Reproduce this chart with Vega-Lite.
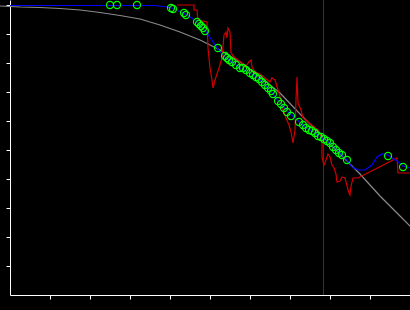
{
  "$schema": "https://vega.github.io/schema/vega-lite/v6.json",
  "width": 400,
  "height": 295,
  "autosize": {"type": "none"},
  "padding": {"left": 10, "top": 0, "right": 0, "bottom": 15},
  "background": "#000000",
  "config": {
    "view": {"stroke": null},
    "axis": {"domainColor": "#ffffff", "tickColor": "#ffffff", "labels": false, "grid": false, "title": null, "tickSize": 4, "domainWidth": 1, "tickWidth": 1}
  },
  "datasets": {
    "curve": [
      {"x": -10, "y": 289}, {"x": 10, "y": 288}, {"x": 30, "y": 287.5}, {"x": 50, "y": 286.5},
      {"x": 70, "y": 285}, {"x": 90, "y": 282.5}, {"x": 110, "y": 279.5}, {"x": 130, "y": 276},
      {"x": 150, "y": 270}, {"x": 170, "y": 263}, {"x": 190, "y": 255}, {"x": 210, "y": 245},
      {"x": 230, "y": 233}, {"x": 250, "y": 218}, {"x": 270, "y": 202}, {"x": 290, "y": 181},
      {"x": 313, "y": 158}, {"x": 330, "y": 141}, {"x": 350, "y": 121}, {"x": 370, "y": 99},
      {"x": 390, "y": 79}, {"x": 400, "y": 69}
    ],
    "blue": [
      {"x": 0, "y": 289.5}, {"x": 145, "y": 289.5}, {"x": 157, "y": 288}, {"x": 162, "y": 287},
      {"x": 175, "y": 281}, {"x": 185, "y": 275}, {"x": 192, "y": 267}, {"x": 197, "y": 262},
      {"x": 203, "y": 253}, {"x": 208, "y": 246}, {"x": 215, "y": 238}, {"x": 222, "y": 233},
      {"x": 230, "y": 227}, {"x": 240, "y": 222}, {"x": 248, "y": 217}, {"x": 255, "y": 210},
      {"x": 262, "y": 202}, {"x": 270, "y": 192}, {"x": 278, "y": 183}, {"x": 285, "y": 177},
      {"x": 295, "y": 168}, {"x": 305, "y": 162}, {"x": 313, "y": 156}, {"x": 320, "y": 152},
      {"x": 330, "y": 142}, {"x": 337, "y": 135}, {"x": 342, "y": 128}, {"x": 348, "y": 125},
      {"x": 355, "y": 125}, {"x": 362, "y": 130}, {"x": 367, "y": 138}, {"x": 372, "y": 141},
      {"x": 378, "y": 140}, {"x": 382, "y": 137}, {"x": 387, "y": 134}, {"x": 393, "y": 129},
      {"x": 400, "y": 127}
    ],
    "red": [
      {"i": 1, "x": 167, "y": 290}, {"i": 2, "x": 184, "y": 290}, {"i": 3, "x": 184, "y": 285},
      {"i": 4, "x": 187, "y": 285}, {"i": 5, "x": 188, "y": 275}, {"i": 6, "x": 197, "y": 273},
      {"i": 7, "x": 198, "y": 247}, {"i": 8, "x": 200, "y": 227}, {"i": 9, "x": 202, "y": 215},
      {"i": 10, "x": 203, "y": 207}, {"i": 11, "x": 205, "y": 215}, {"i": 12, "x": 209, "y": 227},
      {"i": 13, "x": 212, "y": 237}, {"i": 14, "x": 213, "y": 248}, {"i": 15, "x": 214, "y": 260},
      {"i": 16, "x": 216, "y": 263}, {"i": 17, "x": 217, "y": 257}, {"i": 18, "x": 218, "y": 267},
      {"i": 19, "x": 220, "y": 263}, {"i": 20, "x": 221, "y": 243}, {"i": 21, "x": 223, "y": 239},
      {"i": 22, "x": 228, "y": 235}, {"i": 23, "x": 232, "y": 232}, {"i": 24, "x": 236, "y": 229},
      {"i": 25, "x": 239, "y": 233}, {"i": 26, "x": 241, "y": 235}, {"i": 27, "x": 242, "y": 228},
      {"i": 28, "x": 245, "y": 223}, {"i": 29, "x": 250, "y": 221}, {"i": 30, "x": 255, "y": 217},
      {"i": 31, "x": 260, "y": 213}, {"i": 32, "x": 262, "y": 217}, {"i": 33, "x": 265, "y": 215},
      {"i": 34, "x": 268, "y": 205}, {"i": 35, "x": 271, "y": 195}, {"i": 36, "x": 273, "y": 185},
      {"i": 37, "x": 276, "y": 177}, {"i": 38, "x": 279, "y": 170}, {"i": 39, "x": 281, "y": 163},
      {"i": 40, "x": 283, "y": 152}, {"i": 41, "x": 285, "y": 165}, {"i": 42, "x": 286, "y": 195},
      {"i": 43, "x": 287, "y": 218}, {"i": 44, "x": 288, "y": 192}, {"i": 45, "x": 291, "y": 185},
      {"i": 46, "x": 293, "y": 177}, {"i": 47, "x": 298, "y": 173}, {"i": 48, "x": 303, "y": 169},
      {"i": 49, "x": 308, "y": 165}, {"i": 50, "x": 312, "y": 157}, {"i": 51, "x": 312, "y": 138},
      {"i": 52, "x": 314, "y": 130}, {"i": 53, "x": 316, "y": 135}, {"i": 54, "x": 318, "y": 141},
      {"i": 55, "x": 320, "y": 138}, {"i": 56, "x": 322, "y": 130}, {"i": 57, "x": 324, "y": 127},
      {"i": 58, "x": 326, "y": 121}, {"i": 59, "x": 327, "y": 113}, {"i": 60, "x": 330, "y": 114},
      {"i": 61, "x": 332, "y": 118}, {"i": 62, "x": 335, "y": 117}, {"i": 63, "x": 337, "y": 109},
      {"i": 64, "x": 339, "y": 102}, {"i": 65, "x": 340, "y": 100}, {"i": 66, "x": 341, "y": 109},
      {"i": 67, "x": 343, "y": 117}, {"i": 68, "x": 348, "y": 117}, {"i": 69, "x": 387, "y": 137},
      {"i": 70, "x": 388, "y": 122}, {"i": 71, "x": 400, "y": 122}
    ],
    "pts": [
      {"x": 100, "y": 290}, {"x": 107, "y": 290}, {"x": 127, "y": 290}, {"x": 161, "y": 287},
      {"x": 163, "y": 286}, {"x": 174, "y": 282}, {"x": 176, "y": 280}, {"x": 187, "y": 273},
      {"x": 189, "y": 271}, {"x": 191, "y": 269}, {"x": 193, "y": 267}, {"x": 195, "y": 264},
      {"x": 208, "y": 247}, {"x": 215, "y": 239}, {"x": 217, "y": 237}, {"x": 219, "y": 235},
      {"x": 222, "y": 233}, {"x": 226, "y": 230}, {"x": 230, "y": 227}, {"x": 233, "y": 227},
      {"x": 236, "y": 225}, {"x": 240, "y": 222}, {"x": 243, "y": 220}, {"x": 246, "y": 218},
      {"x": 249, "y": 216}, {"x": 252, "y": 213}, {"x": 255, "y": 210}, {"x": 258, "y": 207},
      {"x": 261, "y": 204}, {"x": 263, "y": 201}, {"x": 268, "y": 194}, {"x": 271, "y": 191},
      {"x": 274, "y": 187}, {"x": 277, "y": 183}, {"x": 281, "y": 179}, {"x": 289, "y": 173},
      {"x": 293, "y": 170}, {"x": 296, "y": 167}, {"x": 299, "y": 165}, {"x": 302, "y": 164},
      {"x": 305, "y": 162}, {"x": 308, "y": 159}, {"x": 311, "y": 158}, {"x": 314, "y": 156},
      {"x": 317, "y": 154}, {"x": 320, "y": 152}, {"x": 323, "y": 148}, {"x": 326, "y": 145},
      {"x": 329, "y": 142}, {"x": 332, "y": 140}, {"x": 337, "y": 135}, {"x": 378, "y": 139},
      {"x": 393, "y": 128}
    ],
    "vline": [{"x": 313.5}]
  },
  "encoding": {
    "x": {"field": "x", "type": "quantitative", "scale": {"domain": [0, 400], "nice": false, "zero": false},
          "axis": {"values": [40, 80, 120, 160, 200, 240, 280, 320, 360, 400]}},
    "y": {"field": "y", "type": "quantitative", "scale": {"domain": [0, 295], "nice": false, "zero": false},
          "axis": {"values": [29, 58, 87, 116, 145, 174, 203, 232, 261, 290]}}
  },
  "layer": [
    {"data": {"name": "curve"}, "mark": {"type": "line", "color": "#8a8a8a", "strokeWidth": 1.2}},
    {"data": {"name": "vline"}, "mark": {"type": "rule", "color": "#6e0a6e", "strokeWidth": 1},
     "encoding": {"y": {"value": 0}, "y2": {"value": 295}}},
    {"data": {"name": "red"}, "mark": {"type": "line", "color": "#D00000", "strokeWidth": 1.2},
     "encoding": {"order": {"field": "i", "type": "quantitative"}}},
    {"data": {"name": "blue"}, "mark": {"type": "line", "color": "#0000FF", "strokeWidth": 1.2}},
    {"data": {"name": "pts"}, "mark": {"type": "point", "shape": "circle", "filled": false, "color": "#00FF00", "size": 50, "strokeWidth": 1.2, "opacity": 1}}
  ]
}
